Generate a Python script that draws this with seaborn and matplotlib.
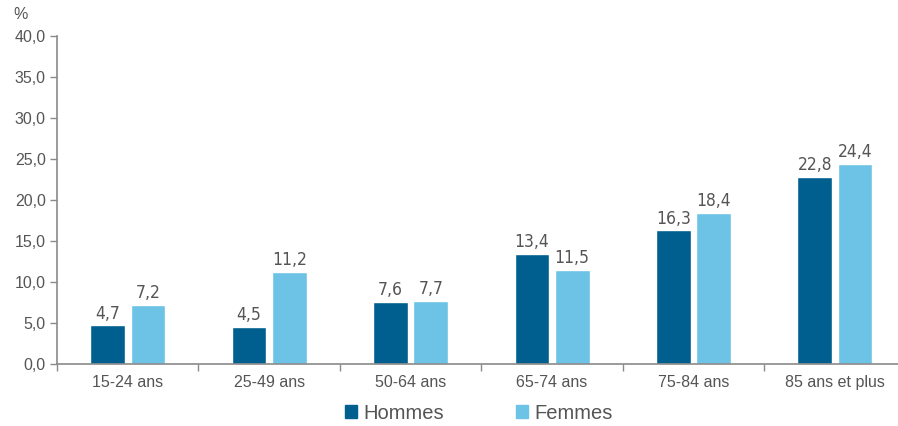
import matplotlib
matplotlib.use("Agg")
import matplotlib.pyplot as plt
import seaborn as sns
import pandas as pd
from matplotlib.patches import Patch

categories = ["15-24 ans", "25-49 ans", "50-64 ans", "65-74 ans", "75-84 ans", "85 ans et plus"]
hommes = [4.7, 4.5, 7.6, 13.4, 16.3, 22.8]
femmes = [7.2, 11.2, 7.7, 11.5, 18.4, 24.4]
series = ["Hommes", "Femmes"]
colors = ["#005f8f", "#6cc3e6"]

df = pd.DataFrame({
    "age": categories * 2,
    "sexe": ["Hommes"] * len(categories) + ["Femmes"] * len(categories),
    "valeur": hommes + femmes,
})

sns.set_style("white")
plt.rcParams["font.family"] = ["Liberation Sans", "DejaVu Sans"]
txt = "#555555"
axc = "#8a8a8a"

fig = plt.figure(figsize=(8.98, 4.26), dpi=100)
ax = fig.add_axes([0.0635, 0.1455, 0.945, 0.77])

sns.barplot(data=df, x="age", y="valeur", hue="sexe", hue_order=series,
            palette=colors, width=0.57, gap=0.14, saturation=1,
            legend=False, ax=ax)

for cont in ax.containers:
    labels = [f"{b.get_height():.1f}".replace(".", ",") for b in cont]
    ax.bar_label(cont, labels=labels, padding=2, color=txt, fontsize=12.5,
                 family="DejaVu Sans", stretch="condensed")

ax.set_xlim(-0.5, len(categories) - 0.5)
ax.set_ylim(0, 40)
ax.set_yticks([0, 5, 10, 15, 20, 25, 30, 35, 40])
ax.set_yticklabels([f"{v:.1f}".replace(".", ",") for v in range(0, 45, 5)])
ax.set_xticks(range(len(categories)))
ax.set_xticks([i - 0.5 for i in range(len(categories) + 1)], minor=True)
ax.tick_params(axis="x", which="major", bottom=True, length=0, pad=8,
               labelsize=11.5, labelcolor=txt)
ax.tick_params(axis="x", which="minor", bottom=True, length=5, width=1,
               color=axc, direction="out")
ax.tick_params(axis="y", left=True, length=5, width=1, color=axc, direction="out",
               pad=3, labelsize=11.5, labelcolor=txt)
ax.set_xlabel("")
ax.set_ylabel("")
for s in ["top", "right"]:
    ax.spines[s].set_visible(False)
for s in ["left", "bottom"]:
    ax.spines[s].set_color(axc)
    ax.spines[s].set_linewidth(1.2)

fig.text(0.015, 0.955, "%", color=txt, fontsize=11.5)

handles = [Patch(color=c, label=l) for c, l in zip(colors, series)]
fig.legend(handles=handles, loc="center", bbox_to_anchor=(0.533, 0.03), ncol=2,
           frameon=False, fontsize=14.5, handlelength=0.6, handleheight=0.6,
           handletextpad=0.3, columnspacing=3.6, labelcolor=txt)

fig.savefig("out.png", dpi=100)
